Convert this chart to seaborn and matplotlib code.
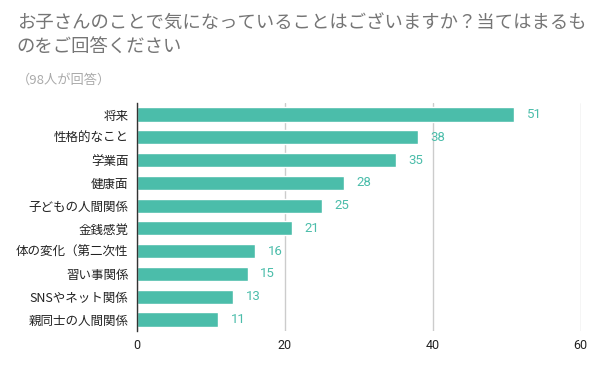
import pandas as pd
import matplotlib.pyplot as plt
import seaborn as sns

categories = ['将来', '性格的なこと', '学業面', '健康面', '子どもの人間関係', '金銭感覚',
              '体の変化（第二次性', '習い事関係', 'SNSやネット関係', '親同士の人間関係']
counts = [51, 38, 35, 28, 25, 21, 16, 15, 13, 11]
x_ticks = [0, 20, 40, 60]

title = 'お子さんのことで気になっていることはございますか？当てはまるも\nのをご回答ください'
subtitle = '（98人が回答）'

bar_color = '#4BBDAA'

sns.set_theme(style='white')
plt.rcParams['font.family'] = ['Noto Sans CJK JP', 'DejaVu Sans']

df = pd.DataFrame({'category': categories, 'count': counts})

fig = plt.figure(figsize=(6, 3.71), dpi=100)
ax = fig.add_axes([0.228, 0.108, 0.74, 0.614])

sns.barplot(data=df, y='category', x='count', color=bar_color, saturation=1,
            width=0.62, ax=ax, zorder=3)

ax.bar_label(ax.containers[0], padding=9, color=bar_color, fontsize=9.5,
             family=['Roboto', 'DejaVu Sans'])

ax.set_xlim(0, 60)
ax.set_xticks(x_ticks)
ax.set_xticklabels([str(t) for t in x_ticks], family=['Roboto', 'DejaVu Sans'])
ax.set_ylim(len(categories) - 0.5, -0.5)
ax.tick_params(axis='both', length=0, labelsize=9, colors='#222222')
ax.tick_params(axis='y', pad=6)
ax.tick_params(axis='x', pad=6)
ax.set_xlabel('')
ax.set_ylabel('')
ax.xaxis.grid(True, color='#cccccc', linewidth=1, zorder=0)
for side in ['top', 'right', 'bottom']:
    ax.spines[side].set_visible(False)
ax.spines['left'].set_color('#333333')
ax.spines['left'].set_linewidth(1)
ax.spines['left'].set_zorder(4)

fig.text(0.028, 0.962, title, fontsize=13.2, color='#757575', va='top', linespacing=1.45)
fig.text(0.028, 0.784, subtitle, fontsize=9.5, color='#aaaaaa', va='center')

fig.savefig('out.png', dpi=100, facecolor='white')
